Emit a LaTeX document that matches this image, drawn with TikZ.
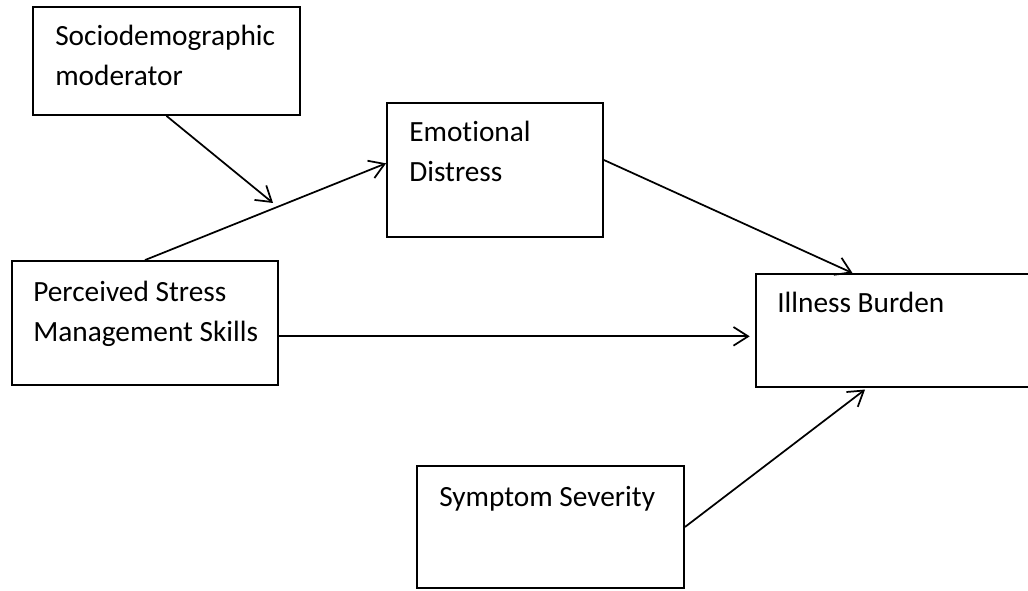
\documentclass[tikz,border=0pt]{standalone}
\usepackage{fontspec}
\setmainfont{Carlito}[Ligatures=NoCommon]
\usetikzlibrary{arrows.meta}
\tikzset{
  box/.style={draw, line width=1.4pt, inner sep=0pt},
  boxtext/.style={anchor=north west, inner sep=0pt, align=left,
    font=\fontsize{22}{30}\selectfont},
  link/.style={line width=1.3pt, -{Straight Barb[length=11pt, width=14pt, line width=1.3pt]}}
}

\begin{document}
\begin{tikzpicture}[x=0.75pt, y=-0.75pt]
\useasboundingbox (0,0) rectangle (1028,591);

% boxes
\node[box, minimum width=267*0.75pt, minimum height=108*0.75pt] (soc) at (166.5,61) {};
\node[box, minimum width=216*0.75pt, minimum height=134*0.75pt] (ed) at (495,170) {};
\node[box, minimum width=266*0.75pt, minimum height=124*0.75pt] (psms) at (145,323) {};
\node[box, minimum width=273*0.75pt, minimum height=113*0.75pt] (ib) at (892.5,330.5) {};
\node[box, minimum width=267*0.75pt, minimum height=122*0.75pt] (ss) at (550.5,527) {};

% texts
\node[boxtext] (soctxt) at (55,25) {Sociodemographic\\moderator};
\node[boxtext] (edtxt) at (409,121) {Emotional\\Distress};
\node[boxtext] (psmstxt) at (33,281) {Perceived Stress\\Management Skills};
\node[boxtext] (ibtxt) at (777,292) {Illness Burden};
\node[boxtext] (sstxt) at (439,486) {Symptom Severity};

% arrows
\coordinate (modtip) at (273,203);
\draw[link] (soc.south) -- (modtip);
\draw[link] (psms.north) -- ([yshift=5pt]ed.west);
\draw[link] ([yshift=7.5pt]ed.east) -- ([xshift=-30pt]ib.north);
\draw[link] ([yshift=-10pt]psms.east) coordinate (pe) -- ([xshift=-4pt]ib.west |- pe);
\draw[link, shorten >=2pt] (ss.east) -- ([xshift=-19pt]ib.south);

\end{tikzpicture}
\end{document}
